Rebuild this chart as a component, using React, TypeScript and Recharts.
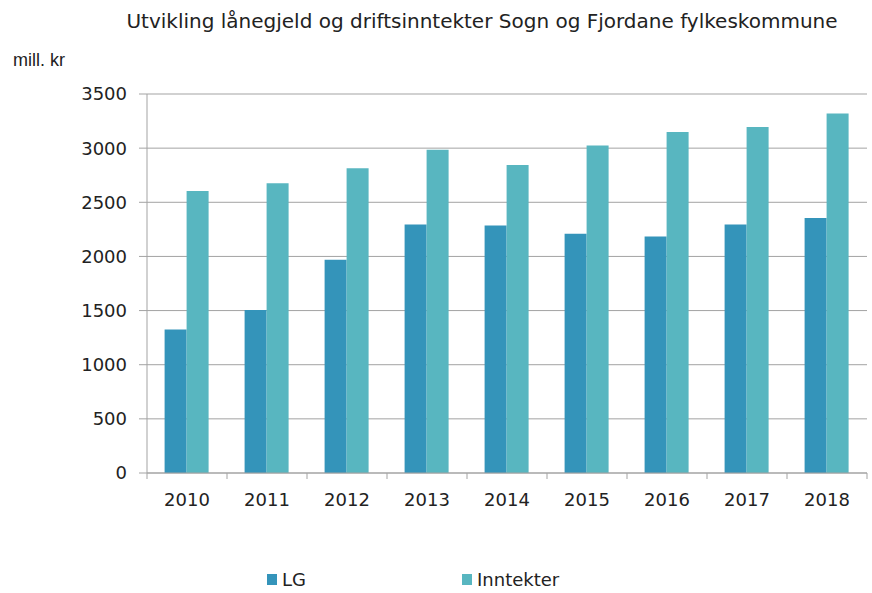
import { Bar, BarChart, CartesianGrid, Legend, XAxis, YAxis } from "recharts";

const years = ["2010", "2011", "2012", "2013", "2014", "2015", "2016", "2017", "2018"];
const lgValues = [1325, 1505, 1970, 2295, 2285, 2210, 2185, 2295, 2355];
const inntektValues = [2605, 2675, 2815, 2985, 2845, 3025, 3150, 3195, 3320];
const yTicks = [0, 500, 1000, 1500, 2000, 2500, 3000, 3500];

const LG_COLOR = "#3494ba";
const INN_COLOR = "#58b6c0";
const AXIS_COLOR = "#a3a3a3";
const FONT = "'DejaVu Sans', sans-serif";

const WIDTH = 872;
const HEIGHT = 593;
const MARGIN = { top: 94, right: 5, bottom: 90, left: 0 };
const Y_WIDTH = 147;
const BAND = (WIDTH - MARGIN.left - MARGIN.right - Y_WIDTH) / years.length;

const data = years.map((year, i) => ({ year, lg: lgValues[i], inn: inntektValues[i] }));

function YearTick(props: any) {
  const { x, y, payload, index } = props;
  const last = index === years.length - 1;
  return (
    <g>
      <line x1={x - BAND / 2} x2={x - BAND / 2} y1={y} y2={y + 6} stroke={AXIS_COLOR} />
      {last && <line x1={x + BAND / 2} x2={x + BAND / 2} y1={y} y2={y + 6} stroke={AXIS_COLOR} />}
      <text x={x} y={y + 33} textAnchor="middle" fontSize={18} fontFamily={FONT} fill="#222">
        {payload.value}
      </text>
    </g>
  );
}

function LegendContent() {
  const items = [
    { label: "LG", color: LG_COLOR },
    { label: "Inntekter", color: INN_COLOR },
  ];
  return (
    <div style={{ display: "flex", fontFamily: FONT, fontSize: 18, color: "#222" }}>
      {items.map((it) => (
        <div key={it.label} style={{ width: 195, display: "flex", alignItems: "center" }}>
          <span style={{ width: 10, height: 11, background: it.color, marginRight: 5, display: "inline-block" }} />
          <span>{it.label}</span>
        </div>
      ))}
    </div>
  );
}

export default function App() {
  return (
    <div style={{ position: "absolute", left: 0, top: 0, width: WIDTH, height: HEIGHT, background: "#fff" }}>
      <div
        style={{
          position: "absolute",
          left: 0,
          width: 964,
          top: 8,
          textAlign: "center",
          fontFamily: FONT,
          fontSize: 20,
          lineHeight: "26px",
          color: "#222",
        }}
      >
        Utvikling lånegjeld og driftsinntekter Sogn og Fjordane fylkeskommune
      </div>
      <div
        style={{
          position: "absolute",
          left: 13,
          top: 48,
          fontFamily: "'Liberation Sans', sans-serif",
          fontSize: 18,
          lineHeight: "24px",
          color: "#222",
        }}
      >
        mill. kr
      </div>
      <BarChart width={WIDTH} height={HEIGHT} data={data} margin={MARGIN} barGap={0} barCategoryGap="22%">
        <CartesianGrid vertical={false} stroke={AXIS_COLOR} />
        <XAxis
          dataKey="year"
          height={30}
          axisLine={{ stroke: AXIS_COLOR }}
          tickLine={false}
          tickSize={0}
          tickMargin={0}
          tick={<YearTick />}
          interval={0}
        />
        <YAxis
          width={Y_WIDTH}
          domain={[0, 3500]}
          ticks={yTicks}
          interval={0}
          axisLine={{ stroke: AXIS_COLOR }}
          tickLine={{ stroke: AXIS_COLOR }}
          tickSize={8}
          tickMargin={12}
          tick={{ fontSize: 18, fontFamily: FONT, fill: "#222" }}
        />
        <Legend
          verticalAlign="middle"
          align="center"
          content={<LegendContent />}
          wrapperStyle={{ top: 569, left: 267, width: 400 }}
        />
        <Bar dataKey="lg" name="LG" fill={LG_COLOR} isAnimationActive={false} />
        <Bar dataKey="inn" name="Inntekter" fill={INN_COLOR} isAnimationActive={false} />
      </BarChart>
    </div>
  );
}
